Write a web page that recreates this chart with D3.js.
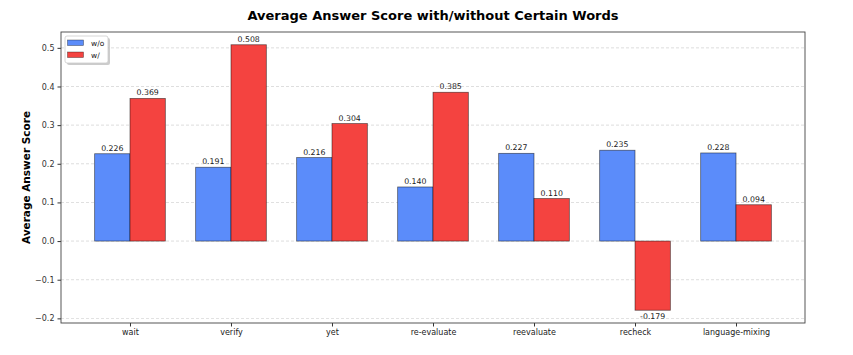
<!DOCTYPE html>
<html><head><meta charset="utf-8">
<script src="https://cdn.jsdelivr.net/npm/d3@7"></script>
<style>body{margin:0;background:#fff;}svg{display:block;font-family:"DejaVu Sans",sans-serif;}</style>
</head><body>
<script>
const categories = ["wait","verify","yet","re-evaluate","reevaluate","recheck","language-mixing"];
const seriesNames = ["w/o","w/"];
const withoutVals = [0.226,0.191,0.216,0.140,0.227,0.235,0.228];
const withVals = [0.369,0.508,0.304,0.385,0.110,-0.179,0.094];
const yTicks = [-0.2,-0.1,0.0,0.1,0.2,0.3,0.4,0.5];
const title = "Average Answer Score with/without Certain Words";
const yLabel = "Average Answer Score";

const W=853,H=355;
const L=61,R=805,T=32,B=323;
const colors=["#5b8cfa","#f44340"];
const svg=d3.select("body").append("svg").attr("width",W).attr("height",H);

const x=d3.scalePoint().domain(categories).range([L,R]).padding(0.683);
const step=x.step();
const bw=step*0.35;
const y=d3.scaleLinear().domain([-0.212,0.541]).range([B,T]);

// grid
svg.append("g").selectAll("line").data(yTicks).join("line")
 .attr("x1",L).attr("x2",R).attr("y1",d=>y(d)).attr("y2",d=>y(d))
 .attr("stroke","#c4c4c4").attr("stroke-width",0.7).attr("stroke-dasharray","3,2").attr("opacity",0.8);

const series=[withoutVals,withVals];
series.forEach((vals,si)=>{
  const g=svg.append("g");
  g.selectAll("rect").data(vals).join("rect")
   .attr("x",(d,i)=>x(categories[i])+(si===0?-bw:0))
   .attr("width",bw)
   .attr("y",d=>y(Math.max(0,d)))
   .attr("height",d=>Math.abs(y(d)-y(0)))
   .attr("fill",colors[si]).attr("stroke","rgba(0,0,0,0.55)").attr("stroke-width",0.8);
  g.selectAll("text").data(vals).join("text")
   .attr("x",(d,i)=>x(categories[i])+(si===0?-bw/2:bw/2))
   .attr("y",d=>d>=0?y(d)-3:y(d)+9)
   .attr("text-anchor","middle").attr("font-size",7.8).attr("fill","#222")
   .text(d=>d.toFixed(3));
});

// axes
const ya=d3.axisLeft(y).tickValues(yTicks).tickSize(3.5).tickPadding(3).tickFormat(d=>d3.format(".1f")(d).replace("-","\u2212"));
const gy=svg.append("g").attr("transform",`translate(${L},0)`).call(ya);
gy.select(".domain").remove();
gy.selectAll("text").attr("font-size",8).attr("fill","#333").attr("font-family","DejaVu Sans");
gy.selectAll("line").attr("stroke","#333");
const xa=d3.axisBottom(x).tickSize(3.5).tickPadding(3);
const gx=svg.append("g").attr("transform",`translate(0,${B})`).call(xa);
gx.select(".domain").remove();
gx.selectAll("text").attr("font-size",8).attr("fill","#222").attr("font-family","DejaVu Sans");
gx.selectAll("line").attr("stroke","#333");

svg.append("rect").attr("x",L).attr("y",T).attr("width",R-L).attr("height",B-T)
 .attr("fill","none").attr("stroke","#444").attr("stroke-width",0.9);

svg.append("text").attr("x",(L+R)/2).attr("y",20).attr("text-anchor","middle")
 .attr("font-size",13).attr("font-weight","bold").text(title);
svg.append("text").attr("transform",`translate(30,${(T+B)/2}) rotate(-90)`).attr("text-anchor","middle")
 .attr("font-size",10.5).attr("font-weight","bold").text(yLabel);

// legend
const lg=svg.append("g");
lg.append("rect").attr("x",67).attr("y",38).attr("width",43).attr("height",27).attr("fill","#999").attr("opacity",0.5).attr("rx",2);
lg.append("rect").attr("x",65).attr("y",36).attr("width",43).attr("height",27).attr("fill","#fff").attr("stroke","#ccc").attr("stroke-width",0.8).attr("rx",2);
seriesNames.forEach((n,i)=>{
  lg.append("rect").attr("x",67.5).attr("y",40+i*12).attr("width",16).attr("height",5.5)
   .attr("fill",colors[i]).attr("stroke","rgba(0,0,0,0.55)").attr("stroke-width",0.6);
  lg.append("text").attr("x",91).attr("y",46+i*12).attr("font-size",7.5).attr("fill","#222").text(n);
});
</script>
</body></html>
